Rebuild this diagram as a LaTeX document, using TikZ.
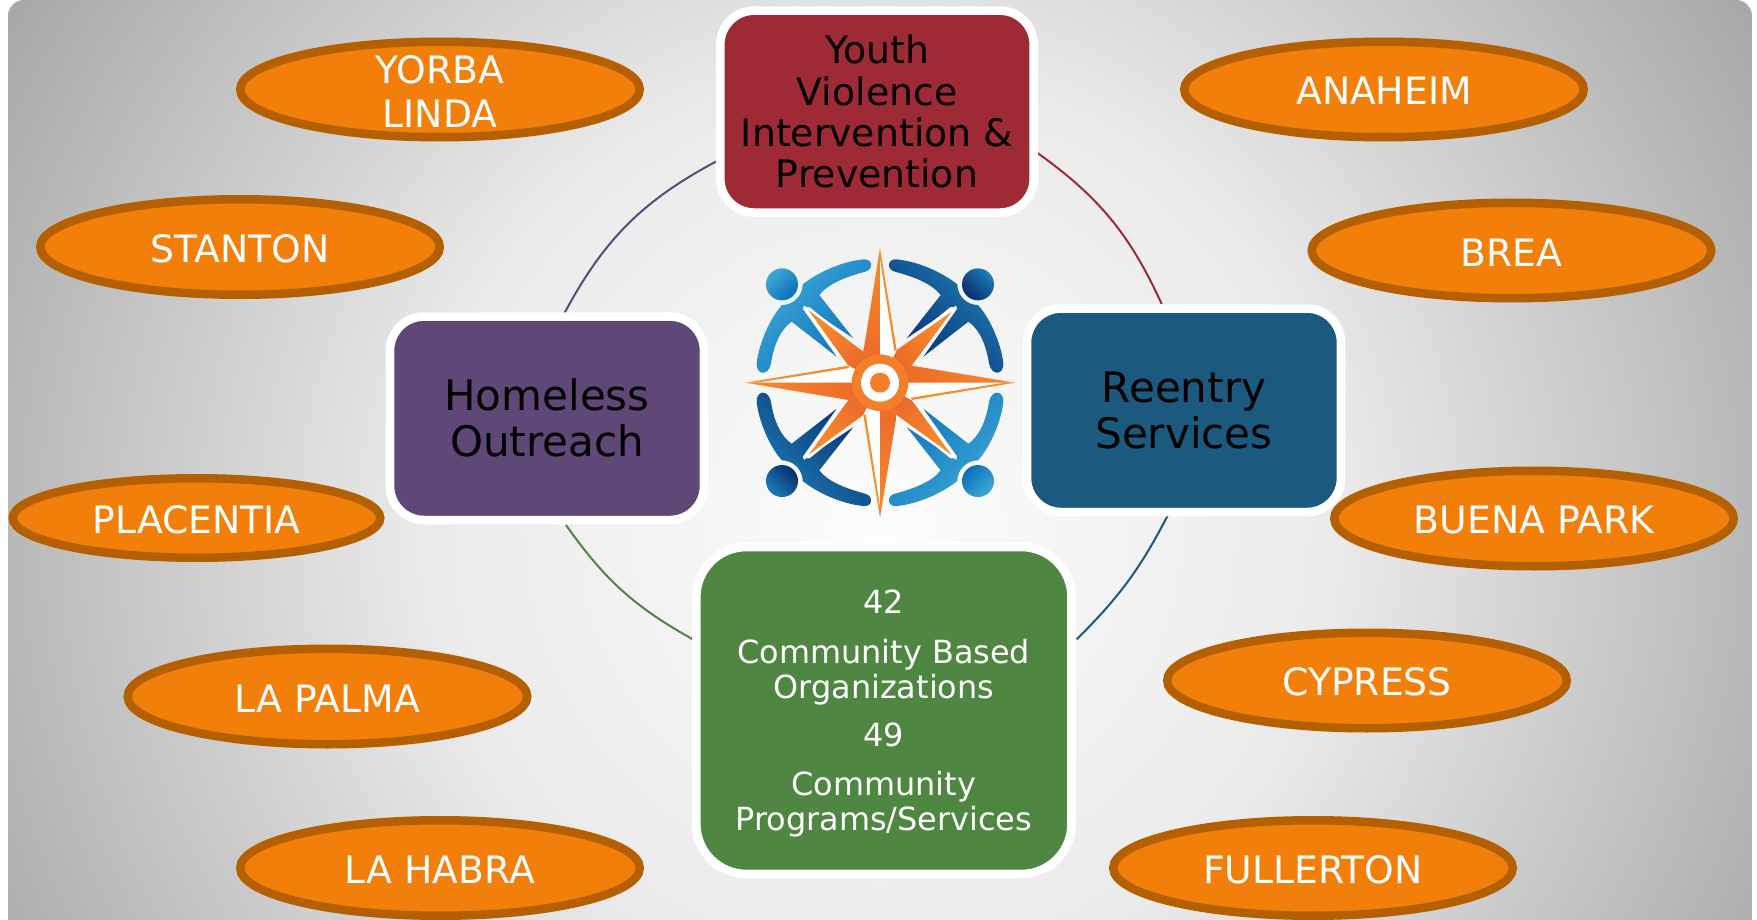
\documentclass[tikz,border=0pt]{standalone}
\usepackage{fontspec}
\setmainfont{DejaVu Sans}
\usetikzlibrary{shapes.geometric}
\definecolor{cMaroon}{HTML}{9E2A36}
\definecolor{cPurple}{HTML}{5F4778}
\definecolor{cBlue}{HTML}{1B5A7E}
\definecolor{cGreen}{HTML}{4F8642}
\definecolor{cOrange}{HTML}{F27F0A}
\definecolor{cOrangeEdge}{HTML}{B45F00}
\definecolor{cStarA}{HTML}{F68B2C}
\definecolor{cStarB}{HTML}{EA6429}
\definecolor{cRing}{HTML}{F47F2B}
\definecolor{cBlueA}{HTML}{3FA9D8}
\definecolor{cBlueB}{HTML}{0A6FB6}
\definecolor{cBlueC}{HTML}{1A7EB6}
\definecolor{cBlueD}{HTML}{0B2C6E}
\pgfdeclareradialshading{bgshade}{\pgfpoint{0bp}{0bp}}{color(0bp)=(white!99!black); color(11bp)=(white!92!black); color(25bp)=(white!65!black); color(50bp)=(white!65!black)}
\tikzset{
  box/.style={rectangle,rounded corners=34,draw=white,line width=8.6,inner sep=0,outer sep=0,align=center,text=black},
  city/.style={ellipse,draw=cOrangeEdge,fill=cOrange,line width=8.5,inner sep=0,outer sep=0,minimum width=399.5,minimum height=95.5,text=white,align=center,font=\fontsize{37.7}{44}\selectfont,execute at begin node={\rule{0pt}{31pt}}},
  citytext/.style={inner sep=0,outer sep=0,text=white,align=center,font=\fontsize{37.7}{44}\selectfont},
  arcline/.style={line width=2}
}
% one figure of the logo, coordinates relative to the logo centre
\newcommand{\logoperson}[5]{%
  \begin{scope}[shift={(880,382.7)},xscale=#1/3,yscale=#2/3]
    \shade[top color=#3,bottom color=#4,shading angle=#5]
      (-50,-370) .. controls (-120,-363) and (-190,-328) .. (-232,-295)
      .. controls (-232,-261) and (-260,-233) .. (-294,-233)
      .. controls (-335,-188) and (-365,-108) .. (-370,-58)
      .. controls (-372,-23) and (-335,-18) .. (-327,-58)
      .. controls (-318,-118) and (-295,-163) .. (-265,-183)
      -- (-130,-78) -- (-232,-222) -- (-228,-232) -- (-80,-133) -- (-182,-263)
      .. controls (-155,-298) and (-100,-318) .. (-45,-333)
      .. controls (-20,-338) and (-20,-373) .. (-50,-370) -- cycle;
    \shade[top color=#3,bottom color=#4,shading angle=#5] (-294,-295) circle (48);
    \fill[white,draw=white,line width=6,line join=round] (-215,-218) -- (-60,-93) -- (-95,-60) -- cycle;
  \end{scope}}
\begin{document}
\begin{tikzpicture}[x=1pt,y=-1pt]
  \useasboundingbox (0,0) rectangle (1757,920);
  % background
  \begin{scope}
    \clip (8,920) [rounded corners=16] -- (8,0) -- (1752,0) [sharp corners] -- (1752,920) -- cycle;
    \shade[shading=bgshade] (-150,-503) rectangle (1910,1557);
  \end{scope}
  % arcs
  \coordinate (yh) at (718,160.5);
  \coordinate (hy) at (564,314);
  \coordinate (yr) at (1035.7,151.7);
  \coordinate (ry) at (1161.7,304);
  \coordinate (hg) at (566,525);
  \coordinate (gh) at (695,640.5);
  \coordinate (rg) at (1168.3,514.3);
  \coordinate (gr) at (1076.7,639.3);
  \draw[cPurple,arcline] (yh) to[bend right=17] (hy);
  \draw[cMaroon,arcline] (yr) to[bend left=15] (ry);
  \draw[cGreen,arcline] (hg) to[bend right=13] (gh);
  \draw[cBlue,arcline] (rg) to[bend left=9] (gr);
  % boxes
  \node[box,fill=cMaroon,minimum width=313.5,minimum height=202,font=\fontsize{37.8}{41.3}\selectfont] (youth) at (877,111.6) {Youth\\Violence\\Intervention \&\\Prevention};
  \node[box,fill=cPurple,minimum width=314,minimum height=203.5,font=\fontsize{42}{46}\selectfont] (homeless) at (547,418.3) {Homeless\\Outreach};
  \node[box,fill=cBlue,minimum width=314,minimum height=203.5,font=\fontsize{42}{46}\selectfont] (reentry) at (1184,410.3) {Reentry\\Services};
  \node[box,rounded corners=50,fill=cGreen,minimum width=375.2,minimum height=327] (programs) at (883.9,710.5) {};
  \node[inner sep=0,outer sep=0,align=center,text=white,font=\fontsize{31.9}{35}\selectfont,yshift=-2.8pt] (programstext) at (programs.center) {42\\[15pt]Community Based\\Organizations\\[13pt]49\\[14pt]Community\\Programs/Services};
  % cities
  \node[city] (yorba) at (440,89.5) {};
  \node[citytext,yshift=-1.8pt] (yorbatext) at (yorba.center) {YORBA\\LINDA};
  \node[city] (stanton) at (240,247) {STANTON};
  \node[city] (anaheim) at (1384,89.5) {ANAHEIM};
  \node[city] (brea) at (1511.5,250.5) {BREA};
  \node[city] (buena) at (1534,518.5) {BUENA PARK};
  \node[city] (cypress) at (1367,680.5) {CYPRESS};
  \node[city] (fullerton) at (1313,868) {FULLERTON};
  \node[city] (lahabra) at (440,868) {LA HABRA};
  \node[city] (lapalma) at (327.5,696.5) {LA PALMA};
  \node[city,minimum width=367.5,minimum height=79.5] (placentia) at (196.5,518) {PLACENTIA};
  % logo: people
  \logoperson{1}{1}{cBlueA}{cBlueB}{45}
  \logoperson{-1}{1}{cBlueC}{cBlueD}{-45}
  \logoperson{1}{-1}{cBlueC}{cBlueD}{135}
  \logoperson{-1}{-1}{cBlueA}{cBlueB}{-135}
  % logo: star
  \begin{scope}[shift={(880,382.7)},scale=1/3]
    \shade[top color=cStarA,bottom color=cStarB,shading angle=45] (-215,-218) -- (-50,-93) -- (0,0) -- (-95,-51) -- cycle;
    \shade[top color=cStarA,bottom color=cStarB,shading angle=-45] (215,-213) -- (50,-98) -- (0,0) -- (95,-51) -- cycle;
    \shade[top color=cStarA,bottom color=cStarB,shading angle=-135] (215,217) -- (50,97) -- (0,0) -- (95,52) -- cycle;
    \shade[top color=cStarA,bottom color=cStarB,shading angle=135] (-215,217) -- (-50,97) -- (0,0) -- (-95,52) -- cycle;
    \fill[white] (0,-404) -- (50,-98) -- (0,0) -- cycle;
    \fill[white] (405,0) -- (95,52) -- (0,0) -- cycle;
    \fill[white] (0,405) -- (-50,97) -- (0,0) -- cycle;
    \fill[white] (-403,0) -- (-95,-51) -- (0,0) -- cycle;
    \fill[cStarA] (0,-404) -- (50,-98) -- (43,-96) -- (0,-372) -- cycle;
    \fill[cStarA] (405,0) -- (95,52) -- (93,45) -- (372,0) -- cycle;
    \fill[cStarA] (0,405) -- (-50,97) -- (-43,95) -- (0,372) -- cycle;
    \fill[cStarA] (-403,0) -- (-95,-51) -- (-93,-44) -- (-370,0) -- cycle;
    \shade[top color=cStarA,bottom color=cStarB] (0,-404) -- (-50,-93) -- (0,0) -- cycle;
    \shade[top color=cStarB,bottom color=cStarA] (0,405) -- (50,97) -- (0,0) -- cycle;
    \shade[left color=cStarB,right color=cStarA] (405,0) -- (95,-51) -- (0,0) -- cycle;
    \shade[left color=cStarA,right color=cStarB] (-403,0) -- (-95,52) -- (0,0) -- cycle;
    \fill[cRing] (0,0) circle (85);
    \fill[white] (0,0) circle (57);
    \fill[cRing] (0,0) circle (30);
  \end{scope}
\end{tikzpicture}
\end{document}
